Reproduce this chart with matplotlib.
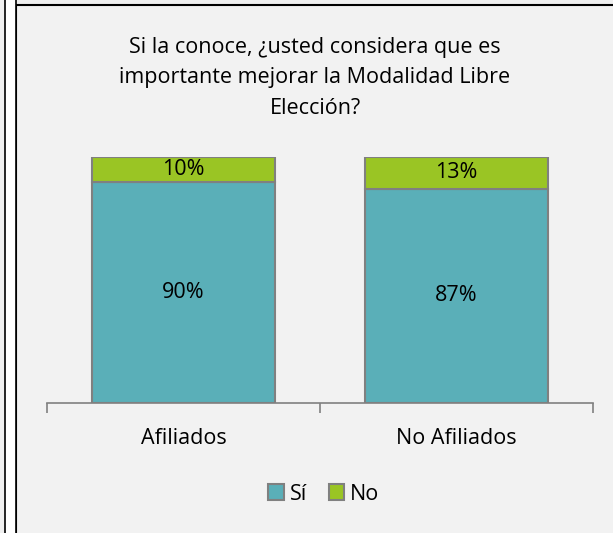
import matplotlib.pyplot as plt
from matplotlib.patches import Rectangle, Patch

# Datos del gráfico
categorias = ['Afiliados', 'No Afiliados']
si = [0.90, 0.87]
no = [0.10, 0.13]
etiquetas_si = ['90%', '87%']
etiquetas_no = ['10%', '13%']

titulo = 'Si la conoce, ¿usted considera que es\nimportante mejorar la Modalidad Libre\nElección?'

plt.rcParams['font.family'] = ['Open Sans', 'DejaVu Sans']

W, H = 613, 533
fig = plt.figure(figsize=(W / 100, H / 100), dpi=100)
fig.patch.set_facecolor('#F0F0F0')

# Marco exterior del gráfico
fig.patches.append(Rectangle((16 / W, -0.1), 1.1, (H - 5) / H + 0.1, transform=fig.transFigure,
                             facecolor='#F2F2F2', edgecolor='black', linewidth=1.5, zorder=-2))
fig.patches.append(Rectangle((5.5 / W, -0.1), 10 / W, 1.2, transform=fig.transFigure,
                             facecolor='white', edgecolor='black', linewidth=1.2, zorder=-2))

# Área del gráfico
ax = fig.add_axes([47 / W, 1 - 403 / H, (593 - 47) / W, (403 - 157) / H])
ax.set_facecolor('none')
ax.set_zorder(2)

verde = '#9AC524'
azul = '#5AAFB8'
x = [0, 1]
ax.bar(x, si, width=0.667, color=azul, edgecolor='#808080', linewidth=1.5, label='Sí')
ax.bar(x, no, width=0.667, bottom=si, color=verde, edgecolor='#808080', linewidth=1.5, label='No')

fs = 15.5
for i in range(len(categorias)):
    ax.text(x[i], si[i] / 2, etiquetas_si[i], ha='center', va='center', fontsize=fs)
    ax.text(x[i], si[i] + no[i] / 2, etiquetas_no[i], ha='center', va='center', fontsize=fs)

ax.set_xlim(-0.5, 1.5)
ax.set_ylim(0, 1)
for s in ['top', 'right', 'left']:
    ax.spines[s].set_visible(False)
ax.spines['bottom'].set_color('#808080')
ax.spines['bottom'].set_linewidth(1.2)
ax.set_yticks([])
ax.set_xticks([-0.5, 0.5, 1.5])
ax.set_xticklabels([])
ax.tick_params(axis='x', length=7, color='#808080', width=1.2)
for i, c in enumerate(categorias):
    ax.text(x[i], -0.145, c, ha='center', va='center', fontsize=fs, clip_on=False)

fig.text(315 / W, 1 - 78 / H, titulo, ha='center', va='center', fontsize=fs, linespacing=1.6)

handles = [Patch(facecolor=azul, edgecolor='#808080', linewidth=1.5),
           Patch(facecolor=verde, edgecolor='#808080', linewidth=1.5)]
fig.legend(handles, ['Sí', 'No'], loc='center', bbox_to_anchor=(324 / W, 1 - 494 / H), ncol=2,
           frameon=False, fontsize=fs, handlelength=0.7, handleheight=0.7,
           handletextpad=0.3, columnspacing=1.0)

fig.savefig('out.png', dpi=100, facecolor=fig.get_facecolor())
